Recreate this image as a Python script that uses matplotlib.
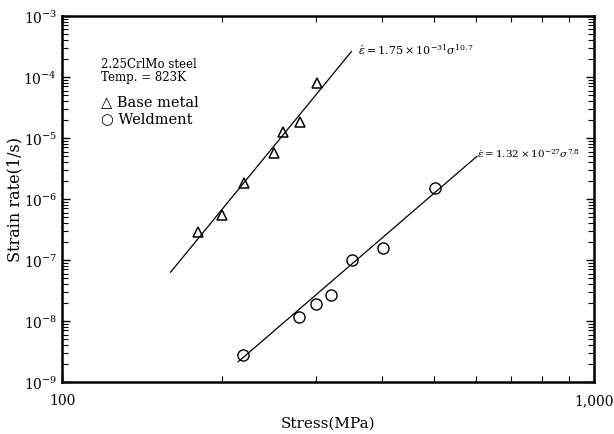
import matplotlib
matplotlib.use("Agg")
import matplotlib.pyplot as plt
import numpy as np
from matplotlib.ticker import LogLocator, FixedLocator, NullFormatter

# Base metal (stress in MPa, strain rate in 1/s)
base_stress = [180, 200, 220, 250, 260, 280, 302]
base_rate = [2.9e-7, 5.5e-7, 1.8e-6, 5.7e-6, 1.25e-5, 1.85e-5, 7.9e-5]

# Weldment
weld_stress = [219, 279, 300, 321, 351, 402, 502]
weld_rate = [2.8e-9, 1.15e-8, 1.9e-8, 2.7e-8, 1.0e-7, 1.55e-7, 1.5e-6]

# fitted lines, read as end points
base_fit_x = [160, 350]
base_fit_y = [6.3e-8, 2.6e-4]
weld_fit_x = [214.5, 603]
weld_fit_y = [2.15e-9, 5.0e-6]

ytick_vals = [1e-9, 1e-8, 1e-7, 1e-6, 1e-5, 1e-4, 1e-3]
ytick_labels = [r"$10^{-9}$", r"$10^{-8}$", r"$10^{-7}$", r"$10^{-6}$",
                r"$10^{-5}$", r"$10^{-4}$", r"$10^{-3}$"]
xtick_vals = [100, 1000]
xtick_labels = ["100", "1,000"]

plt.rcParams["font.family"] = "DejaVu Serif"
plt.rcParams["mathtext.fontset"] = "dejavuserif"

fig = plt.figure(figsize=(6.14, 4.35), dpi=100)
ax = fig.add_axes([0.101, 0.1195, 0.866, 0.8415])

ax.plot(base_fit_x, base_fit_y, color="black", lw=0.9)
ax.plot(weld_fit_x, weld_fit_y, color="black", lw=0.9)
ax.plot(base_stress, base_rate, linestyle="none", marker="^", markersize=7,
        markerfacecolor="none", markeredgecolor="black", markeredgewidth=1.1)
ax.plot(weld_stress, weld_rate, linestyle="none", marker="o", markersize=8,
        markerfacecolor="none", markeredgecolor="black", markeredgewidth=1.0)

ax.set_xscale("log")
ax.set_yscale("log")
ax.set_xlim(100, 1000)
ax.set_ylim(1e-9, 1e-3)

ax.xaxis.set_major_locator(FixedLocator(xtick_vals))
ax.set_xticklabels(xtick_labels, fontsize=10)
ax.xaxis.set_minor_locator(LogLocator(base=10, subs=np.arange(2, 10)))
ax.xaxis.set_minor_formatter(NullFormatter())
ax.yaxis.set_major_locator(FixedLocator(ytick_vals))
ax.set_yticklabels(ytick_labels, fontsize=10)
ax.yaxis.set_minor_locator(LogLocator(base=10, subs=np.arange(2, 10)))
ax.yaxis.set_minor_formatter(NullFormatter())

ax.tick_params(which="both", direction="in", top=True, right=True)
ax.tick_params(which="major", length=6, width=1)
ax.tick_params(which="minor", length=4, width=0.8)
ax.tick_params(axis="x", which="major", pad=8)
for s in ax.spines.values():
    s.set_linewidth(1.8)

ax.set_xlabel("Stress(MPa)", fontsize=11, labelpad=6)
ax.set_ylabel("Strain rate(1/s)", fontsize=11.5, labelpad=0)

ax.text(0.074, 0.852, "2.25CrlMo steel\nTemp. = 823K", transform=ax.transAxes,
        fontsize=8.5, va="center", ha="left", linespacing=1.05)
ax.text(0.074, 0.768, "\u25b3 Base metal", transform=ax.transAxes,
        fontsize=10.5, va="center", ha="left")
ax.text(0.074, 0.722, "\u25cb Weldment", transform=ax.transAxes,
        fontsize=10.5, va="center", ha="left")

ax.text(360, 2.9e-4, r"$\dot{\epsilon}=1.75\times10^{-31}\sigma^{10.7}$",
        fontsize=8, va="center", ha="left")
ax.text(604, 5.8e-6, r"$\dot{\epsilon}=1.32\times10^{-27}\sigma^{7.8}$",
        fontsize=7.5, va="center", ha="left")

fig.savefig("out.png", dpi=100)
